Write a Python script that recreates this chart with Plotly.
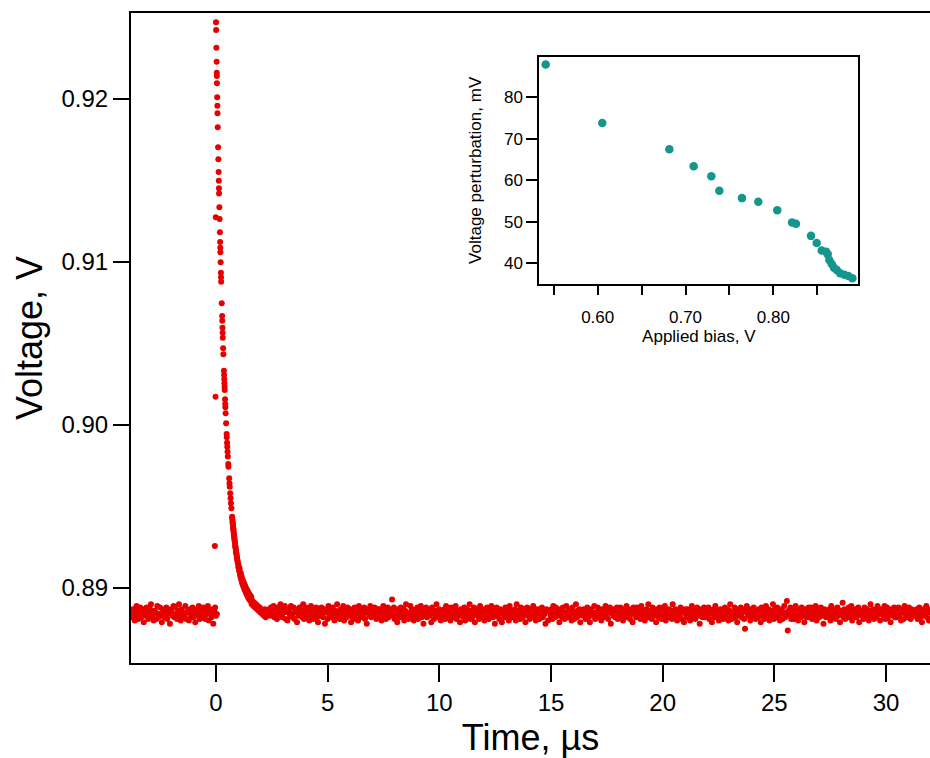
import numpy as np
import plotly.graph_objects as go

# ---------------- main trace data ----------------
base_v = 0.8884          # baseline level, V
dev_unit = 0.0001        # noise deviations are given in units of 0.1 mV

# pre-trigger baseline samples (deviation from baseline, 0.1 mV units)
pre_dev = [1, -2, 3, 0, -4, 2, 5, -1, -3, 1, 4, -2, 0, 3, -5, 2, -1, 4, 1, -3,
           -2, 3, 6, -1, 0, -4, 2, 1, -3, 5, -2, 0, 4, -1, -5, 3, 2, -2, 1, 4,
           -3, 0, 2, -6, 3, 1, -1, 5, -2, 4, 0, -3, 2, 6, -1, -4, 3, 1, -2, 0,
           5, -3, 1, 2, -4, 3, -1, 0, 4, -2, 2, -5, 1, 3, -1, 5, -3, 0, 2, -2,
           4, -1, -3, 2, 0, 5, -4, 1, 3, -2, 1, -6, 2, 4, -1, 0]
pre_t_start, pre_t_end = -3.80, 0.04

# post-decay baseline samples (deviation from baseline, 0.1 mV units)
post_dev = [6, 8, 5, 7, 4, 6, 3, 5, 2, 4, 1, 3, 0, 2, -1, 3, -2, 1, 0, 2,
            3, -1, 4, 2, 0, 5, -2, 3, 1, -3, 4, 2, -1, 6, 0, -2, 3, 1, 5, -3,
            2, -4, 1, 3, -1, 5, 0, -2, 4, -3, 2, 1, -5, 3, -1, 4, 0, 2, -2, 6,
            -3, 1, 4, -2, 0, 3, -4, 2, 5, -1, 1, -3, 2, 0, 4, -2, -5, 3, 1, -1,
            4, 0, -2, 3, -6, 1, 2, -3, 5, 0, -1, 3, -2, 4, 1, -4, 2, 0, 6, -2,
            1, -3, 3, 0, -1, 5, -4, 2, 1, -2, 4, -1, 0, 3, -5, 2, -2, 1, 4, -3,
            0, 2, -4, 5, 1, -2, 3, -1, 0, 4, -3, 2, -6, 1, 3, -1, 5, -2, 0, 2,
            -1, 4, 1, -3, 2, 3, -2, 3, 0, -4, 1, 5, -1, 2, -3, 0, 4, -2, 3, 1,
            2, 9, -1, 4, -3, 0, 2, -5, 3, 1, -2, 4, 0, -1, 3, -4, 2, 6, -2, 0,
            -3, 1, 5, -2, 3, 0, -4, 2, 1, -1, 4, -3, 2, 0, 5, -2, 1, -6, 3, -1,
            4, -2, 0, 3, -1, 2, -5, 4, 1, -3, 0, 2, 6, -1, -2, 3, 1, -4, 2, 0,
            -1, 3, -3, 5, 0, -2, 2, 1, -4, 4, -1, 0, 3, -2, 5, -3, 1, 2, -1, -5,
            3, 0, 2, -2, 4, -4, 1, 3, -1, 0, 6, -3, 2, -2, 1, 4, -5, 0, 3, -1,
            2, -3, 5, 1, -1, 0, 3, -4, 2, -2, 4, 1, -3, 0, 2, 5, -1, -2, 3, -6,
            0, 4, -1, 2, -3, 3, 1, -5, 0, 2, -2, 4, -1, 3, 0, -4, 5, 1, -2, 2,
            -2, 1, 3, -4, 6, 0, -1, 2, -3, 4, 1, -2, 0, 3, -5, 2, 4, -1, 1, -3,
            3, -1, 0, 5, -2, 2, -4, 1, 3, 0, -3, 2, -1, 4, -2, 1, 0, -6, 3, 2,
            -4, 2, 1, -1, 3, -3, 5, 0, -2, 4, 1, -1, 2, -5, 3, 0, -2, 4, 1, -3,
            1, 5, -2, 0, 3, -1, 2, -4, 4, 1, -3, 0, 6, -2, 2, -1, 3, -5, 0, 2,
            -1, 3, 2, -3, 0, 4, -2, 1, -5, 3, 2, -1, 0, 5, -3, 1, -2, 4, -1, 0,
            2, -4, 3, 1, -2, 0, 5, -1, 3, -3, 1, 4, -6, 2, 0, -1, 3, -2, 2, 4,
            -3, 0, 1, 4, -1, 2, -4, 3, 0, -2, 5, 1, -1, 3, -3, 2, 0, -5, 4, 1,
            0, -2, 4, -1, 3, 1, -3, 5, -2, 0, 2, -4, 1, 3, -1, 6, -2, 0, 2, -3,
            4, 1, -1, 2, -5, 3, 0, -2, 4, 1, -3, 2, -1, 0, 5, -4, 2, 1, -2, 3,
            -1, 2, -3, 6, 0, -2, 3, 1, -4, 2, 0, -1, 4, -3, 1, 2, -5, 3, 0, -2,
            3, -1, 1, -4, 2, 5, -2, 0, 3, -3, 1, 4, -1, 2, -6, 0, 3, -2, 1, 4,
            -2, 0, 3, -1, 4, -3, 1, 2, -5, 0, 3, -2, 5, 1, -1, 2, -4, 0, 3, -1,
            2, -3, 0, 4, -2, 1, 3, -4, 2, 6, -1, -3, 1, 0, 4, -2, 3, -5, 1, 2,
            -1, 4, -2, 1, 3, -3, -9, 2, 5, -1, 0, 3, -4, 2, 1, -2, 4, 0, -3, 2,
            1, -2, 3, 0, -5, 4, -1, 2, -3, 1, 5, -2, 0, 3, -4, 2, 1, -1, 6, -3,
            3, 0, -2, 4, -1, 2, -4, 1, 3, -3, 0, 5, -2, 1, 8, -10, 2, -1, 4, -3,
            0, 3, -3, 2, 5, -1, 1, -4, 3, 0, -2, 4, -1, 2, -5, 3, 1, -2, 0, 4,
            -2, 1, 4, -3, 0, 2, -1, 5, -4, 1, 3, -2, 0, 4, -1, 2, -6, 3, 1, -2,
            2, -1, 0, 3, -4, 5, 1, -2, 3, 0, -3, 2, 4, -1, 1, -5, 2, 0, 7, -2,
            3, -3, 1, 2, -1, 4, -2, 0, 5, -4, 2, 1, -1, 3, -2, 0, 4, -5, 2, 1,
            -1, 2, -3, 4, 0, -2, 3, 1, -4, 2, 6, -1, 0, 3, -3, 1, 2, -2, 5, 0,
            1, -4, 3, 0, 2, -1, 5, -3, 1, 4, -2, 0, 3, -5, 2, 1, -1, 4, -2, 3,
            -2, 0, 4, -1, 3, -4, 1, 2, -3, 5, 0, -1, 2, -2, 4, 1, -3, 3, 0, -1,
            2, -1, 1, 3, -3, 0, 4, -2, 2, -5, 1, 3, -1, 0, 5, -2, 2, -4, 1, 3]
post_t_start, post_t_end = 1.60, 32.0

# transient (rising edge, spike and decay), time in us, voltage in V
spike_t = [-0.05, -0.02, -0.01, 0.000, 0.005, 0.017, 0.027, 0.036, 0.038, 0.043,
           0.054, 0.061, 0.067, 0.078, 0.095, 0.105, 0.117, 0.125, 0.132, 0.136,
           0.150, 0.162, 0.175, 0.185, 0.192, 0.197, 0.208, 0.220, 0.225, 0.231,
           0.257, 0.274, 0.281, 0.290, 0.297, 0.304, 0.320, 0.329, 0.355, 0.362,
           0.370, 0.377, 0.383, 0.388, 0.405, 0.414, 0.420, 0.432, 0.453, 0.476,
           0.483, 0.496, 0.505, 0.517, 0.530, 0.549, 0.556, 0.589, 0.604, 0.615,
           0.636, 0.653, 0.670, 0.689, 0.722, 0.736, 0.748, 0.762, 0.776, 0.790,
           0.805, 0.820, 0.837, 0.853, 0.870, 0.889, 0.908, 0.929, 0.950, 0.971,
           0.729, 0.742, 0.755, 0.769, 0.783, 0.798, 0.812, 0.828, 0.845, 0.861,
           0.879, 0.898, 0.918, 0.939, 0.960,
           0.99, 1.00, 1.02, 1.03, 1.05, 1.06, 1.08, 1.09, 1.11, 1.12,
           1.14, 1.15, 1.17, 1.19, 1.20, 1.22, 1.24, 1.26, 1.28, 1.30,
           1.32, 1.34, 1.36, 1.38, 1.40, 1.42, 1.44, 1.46, 1.48, 1.50,
           1.52, 1.54, 1.56, 1.58]
spike_v = [0.89258, 0.90174, 0.91274, 0.92471, 0.92423, 0.92315, 0.92229, 0.92161, 0.92141, 0.92096,
           0.92010, 0.91959, 0.91912, 0.91826, 0.91704, 0.91630, 0.91552, 0.91499, 0.91452, 0.91421,
           0.91336, 0.91264, 0.91182, 0.91123, 0.91088, 0.91060, 0.90998, 0.90934, 0.90906, 0.90879,
           0.90747, 0.90669, 0.90640, 0.90597, 0.90566, 0.90536, 0.90471, 0.90434, 0.90333, 0.90307,
           0.90280, 0.90256, 0.90235, 0.90215, 0.90158, 0.90129, 0.90109, 0.90072, 0.90010, 0.89945,
           0.89925, 0.89891, 0.89867, 0.89836, 0.89806, 0.89761, 0.89744, 0.89673, 0.89642, 0.89621,
           0.89581, 0.89550, 0.89520, 0.89489, 0.89437, 0.89417, 0.89399, 0.89380, 0.89362, 0.89344,
           0.89325, 0.89307, 0.89288, 0.89270, 0.89252, 0.89233, 0.89215, 0.89196, 0.89178, 0.89160,
           0.89430, 0.89405, 0.89392, 0.89368, 0.89355, 0.89332, 0.89318, 0.89297, 0.89282, 0.89258,
           0.89245, 0.89221, 0.89208, 0.89185, 0.89170,
           0.89148, 0.89128, 0.89135, 0.89112, 0.89100, 0.89118, 0.89085, 0.89070, 0.89092, 0.89060,
           0.89048, 0.89070, 0.89030, 0.89052, 0.89018, 0.89040, 0.89005, 0.89028, 0.88990, 0.89015,
           0.88978, 0.89002, 0.88965, 0.88990, 0.88955, 0.88982, 0.88940, 0.88970, 0.88932, 0.88960,
           0.88925, 0.88952, 0.88918, 0.88945]

# ---------------- inset data ----------------
bias = [0.5408, 0.6052, 0.6816, 0.7093, 0.7294, 0.7385, 0.7643, 0.7829, 0.8045, 0.8213,
        0.8258, 0.8429, 0.8494, 0.8551, 0.8600, 0.8619, 0.8638, 0.8665, 0.8691, 0.8722,
        0.8760, 0.8809, 0.8854, 0.8900]
perturb = [87.9, 73.8, 67.5, 63.4, 61.0, 57.5, 55.7, 54.8, 52.8, 49.8,
           49.5, 46.6, 44.9, 43.1, 42.8, 42.2, 40.8, 39.8, 38.9, 38.4,
           37.6, 37.2, 36.9, 36.4]

# ---------------- build ----------------
pre_t = np.linspace(pre_t_start, pre_t_end, len(pre_dev))
post_t = np.linspace(post_t_start, post_t_end, len(post_dev))
pre_v = base_v + dev_unit * np.array(pre_dev)
post_v = base_v + dev_unit * np.array(post_dev)

t_all = np.concatenate([pre_t, np.array(spike_t), post_t])
v_all = np.concatenate([pre_v, np.array(spike_v), post_v])

FONT = "Liberation Sans, Arial, sans-serif"
RED = "#e60000"
TEAL = "#14968f"

fig = go.Figure()
fig.add_trace(go.Scatter(
    x=t_all, y=v_all, mode="markers",
    marker=dict(symbol="circle", size=6, color=RED, line=dict(width=0)),
    showlegend=False, xaxis="x", yaxis="y"))

fig.add_trace(go.Scatter(
    x=bias, y=perturb, mode="markers",
    marker=dict(symbol="circle", size=8.5, color=TEAL, line=dict(width=0)),
    showlegend=False, xaxis="x2", yaxis="y2"))

fig.update_layout(
    width=930, height=758,
    margin=dict(l=131, r=0, t=13, b=95, pad=0),
    paper_bgcolor="white", plot_bgcolor="white",
    font=dict(family=FONT, color="black"),
    xaxis=dict(
        range=[-3.806, 31.97], tick0=0, dtick=5,
        ticks="outside", ticklen=17, tickwidth=2, tickcolor="black",
        showline=True, linewidth=2, linecolor="black", mirror=True,
        showgrid=False, zeroline=False, automargin=False,
        tickfont=dict(size=24, family=FONT, color="black"),
        title=dict(text="Time, µs", font=dict(size=36, family=FONT, color="black"), standoff=15),
    ),
    yaxis=dict(
        range=[0.885399, 0.925276], tick0=0.89, dtick=0.01, tickformat=".2f",
        ticks="outside", ticklen=16, tickwidth=2, tickcolor="black",
        showline=True, linewidth=2, linecolor="black", mirror=False,
        showgrid=False, zeroline=False, automargin=False,
        tickfont=dict(size=24, family=FONT, color="black"),
        title=dict(text="Voltage, V", font=dict(size=36, family=FONT, color="black"), standoff=8),
    ),
    xaxis2=dict(
        domain=[0.5110, 0.9103], anchor="y2",
        range=[0.5335, 0.8968], tick0=0.6, dtick=0.1, tickformat=".2f",
        ticks="outside", ticklen=9, tickwidth=1.5, tickcolor="black",
        minor=dict(dtick=0.05, tick0=0.55, ticks="outside", ticklen=9, tickwidth=1.5, tickcolor="black"),
        showline=True, linewidth=2, linecolor="black", mirror=True,
        showgrid=False, zeroline=False, automargin=False,
        ticklabelstandoff=8,
        tickfont=dict(size=17, family=FONT, color="black"),
        title=dict(text="Applied bias, V", font=dict(size=17, family=FONT, color="black"), standoff=4),
    ),
    yaxis2=dict(
        domain=[0.5831, 0.9328], anchor="x2",
        range=[35.0, 89.8], tick0=40, dtick=10,
        ticks="outside", ticklen=11, tickwidth=1.5, tickcolor="black",
        showline=True, linewidth=2, linecolor="black", mirror=True,
        showgrid=False, zeroline=False, automargin=False,
        tickfont=dict(size=17, family=FONT, color="black"),
        title=dict(text="Voltage perturbation, mV", font=dict(size=17, family=FONT, color="black"), standoff=18),
    ),
)

fig.write_html("out.html")
